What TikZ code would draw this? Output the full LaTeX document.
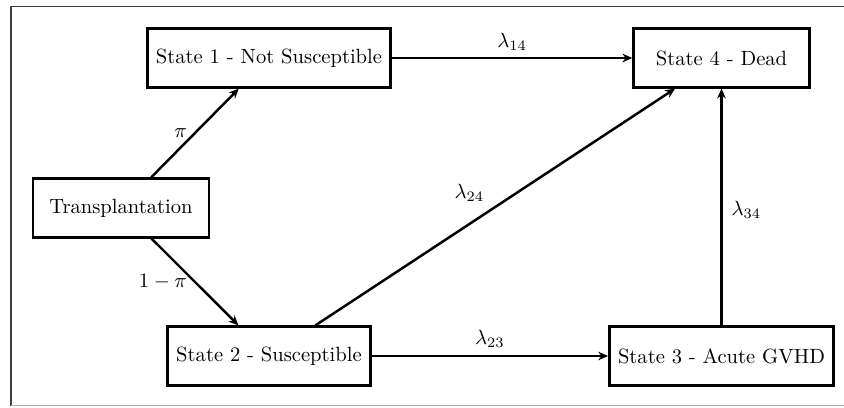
\documentclass[tikz,border=0pt]{standalone}
\usetikzlibrary{arrows.meta}
\begin{document}
\begin{tikzpicture}[x=0.4854pt,y=-0.4854pt,
  statebox/.style={draw,line width=1.25pt,minimum width=3cm,minimum height=1cm,inner xsep=4.2pt,font=\normalsize},
  trans/.style={line width=1.2pt,-{Stealth[length=4.8pt,width=4.2pt,inset=1.6pt]}},
  lbl/.style={font=\normalsize}]
\useasboundingbox (0,0) rectangle (844,407);
\draw[line width=0.7pt,black!75] (844,6.5) -- (11,6.5) -- (11,405.5);
\draw[line width=0.7pt,black!30] (11,405.5) -- (844,405.5);
\node[statebox] (t)  at (121,208) {Transplantation};
\node[statebox] (s1) at (269,58) {State 1 - Not Susceptible};
\node[statebox] (s2) at (269,356) {State 2 - Susceptible};
\node[statebox] (s4) at (721.5,58) {State 4 - Dead};
\node[statebox] (s3) at (721.5,356) {State 3 - Acute GVHD};
\draw[trans] (t) -- node[lbl,left] {$\pi$} (s1);
\draw[trans] (t) -- node[lbl,left,xshift=0pt] {$1-\pi$} (s2);
\draw[trans] (s1) -- node[lbl,above,yshift=-0.5pt] {$\lambda_{14}$} (s4);
\draw[trans] (s2) -- node[lbl,above left,xshift=-1.5pt,yshift=-1.5pt] {$\lambda_{24}$} (s4);
\draw[trans] (s2) -- node[lbl,above] {$\lambda_{23}$} (s3);
\draw[trans] (s3) -- node[lbl,right,xshift=1pt,yshift=-1.5pt] {$\lambda_{34}$} (s4);
\end{tikzpicture}
\end{document}
